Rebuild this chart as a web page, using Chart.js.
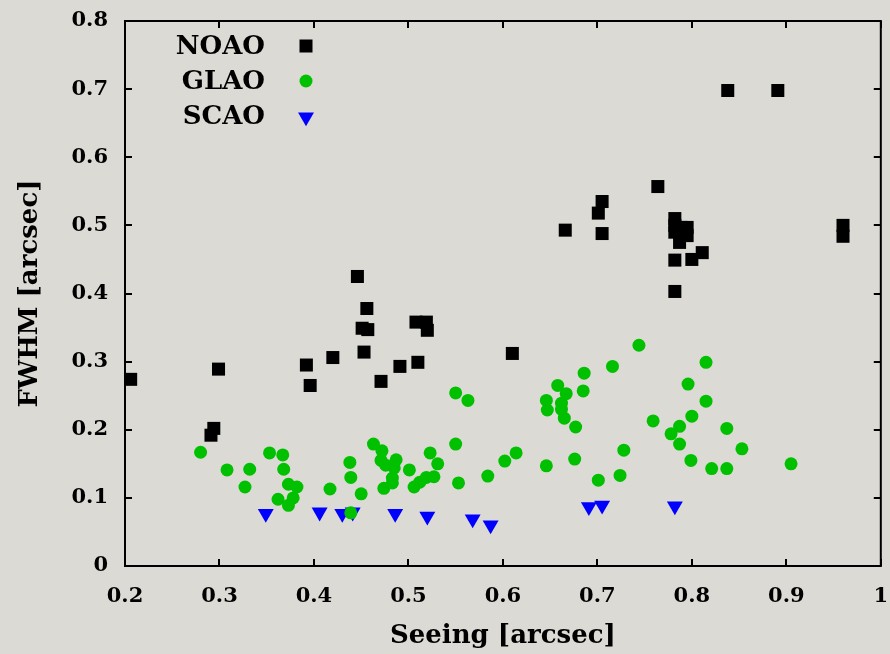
<!DOCTYPE html>
<html>
<head>
<meta charset="utf-8">
<script src="https://cdn.jsdelivr.net/npm/chart.js@4/dist/chart.umd.min.js"></script>
<style>
  html, body { margin: 0; padding: 0; background: #dcdad4; }
  #wrap { width: 890px; height: 654px; }
</style>
</head>
<body>
<div id="wrap"><canvas id="c" width="890" height="654"></canvas></div>
<script>
// ---- Data ----
const seriesNames = ["NOAO", "GLAO", "SCAO"];

const noaoX = [0.206,0.291,0.294,0.299,0.392,0.396,0.420,0.446,0.456,0.451,0.457,0.453,0.471,0.491,0.508,0.510,0.519,0.520,0.610,0.666,0.701,0.705,0.705,0.764,0.782,0.782,0.789,0.795,0.795,0.782,0.787,0.811,0.800,0.782,0.782,0.838,0.891,0.960,0.960];
const noaoY = [0.274,0.192,0.202,0.289,0.295,0.265,0.306,0.425,0.378,0.349,0.347,0.314,0.271,0.293,0.358,0.299,0.358,0.346,0.312,0.493,0.518,0.535,0.488,0.557,0.510,0.500,0.497,0.497,0.485,0.490,0.475,0.460,0.450,0.449,0.403,0.698,0.698,0.500,0.484];

const glaoX = [0.280,0.308,0.332,0.327,0.353,0.367,0.368,0.373,0.382,0.378,0.362,0.373,0.417,0.438,0.439,0.450,0.463,0.472,0.471,0.476,0.487,0.483,0.474,0.439,0.485,0.501,0.483,0.523,0.531,0.527,0.519,0.512,0.506,0.550,0.553,0.584,0.602,0.614,0.646,0.550,0.563,0.646,0.647,0.744,0.716,0.686,0.685,0.658,0.667,0.662,0.662,0.665,0.677,0.676,0.701,0.724,0.728,0.759,0.778,0.787,0.787,0.800,0.796,0.815,0.815,0.799,0.837,0.853,0.821,0.837,0.905];
const glaoY = [0.167,0.141,0.142,0.116,0.166,0.163,0.142,0.120,0.116,0.100,0.098,0.089,0.113,0.152,0.130,0.106,0.179,0.169,0.155,0.148,0.156,0.129,0.114,0.078,0.144,0.141,0.122,0.166,0.150,0.131,0.130,0.123,0.116,0.179,0.122,0.132,0.154,0.166,0.147,0.254,0.243,0.243,0.229,0.324,0.293,0.283,0.257,0.265,0.253,0.239,0.230,0.217,0.204,0.157,0.126,0.133,0.170,0.213,0.194,0.205,0.179,0.220,0.267,0.299,0.242,0.155,0.202,0.172,0.143,0.143,0.150];

const scaoX = [0.349,0.406,0.430,0.441,0.486,0.520,0.568,0.587,0.691,0.705,0.782];
const scaoY = [0.077,0.079,0.077,0.079,0.077,0.073,0.069,0.060,0.087,0.089,0.088];

const xTickValues = [0.2,0.3,0.4,0.5,0.6,0.7,0.8,0.9,1.0];
const yTickValues = [0,0.1,0.2,0.3,0.4,0.5,0.6,0.7,0.8];
const xTickLabels = ["0.2","0.3","0.4","0.5","0.6","0.7","0.8","0.9","1"];
const yTickLabels = ["0","0.1","0.2","0.3","0.4","0.5","0.6","0.7","0.8"];
const xTitle = "Seeing [arcsec]";
const yTitle = "FWHM [arcsec]";

// ---- Build chart ----
function pts(xs, ys) { return xs.map((x, i) => ({ x: x, y: ys[i] })); }
function nearestLabel(values, labels, v) {
  let best = 0, d = Infinity;
  values.forEach((t, i) => { const dd = Math.abs(t - v); if (dd < d) { d = dd; best = i; } });
  return d < 1e-6 ? labels[best] : '';
}

const BG = '#dcdad4';
const tickFont = { family: 'DejaVu Serif', weight: 'bold', size: 21 };
const titleFont = { family: 'DejaVu Serif', weight: 'bold', size: 26 };

const markerStyles = [
  { pointStyle: 'rect', radius: 9.2, rotation: 0, color: '#000000' },
  { pointStyle: 'circle', radius: 6.5, rotation: 0, color: '#00c000' },
  { pointStyle: 'triangle', radius: 9.2, rotation: 180, color: '#0000ff' }
];

const bgPlugin = {
  id: 'bg',
  beforeDraw(chart) {
    const ctx = chart.ctx;
    ctx.save();
    ctx.fillStyle = BG;
    ctx.fillRect(0, 0, chart.width, chart.height);
    ctx.restore();
  }
};

const framePlugin = {
  id: 'frame',
  afterDatasetsDraw(chart) {
    const ctx = chart.ctx, a = chart.chartArea;
    const xs = chart.scales.x, ys = chart.scales.y;
    const L = 7;
    ctx.save();
    ctx.strokeStyle = '#000';
    ctx.lineWidth = 2;
    ctx.beginPath();
    xTickValues.forEach(v => {
      const px = Math.round(xs.getPixelForValue(v));
      ctx.moveTo(px, a.bottom); ctx.lineTo(px, a.bottom - L);
      ctx.moveTo(px, a.top); ctx.lineTo(px, a.top + L);
    });
    yTickValues.forEach(v => {
      const py = Math.round(ys.getPixelForValue(v));
      ctx.moveTo(a.left, py); ctx.lineTo(a.left + L, py);
      ctx.moveTo(a.right, py); ctx.lineTo(a.right - L, py);
    });
    ctx.stroke();
    ctx.strokeRect(a.left, a.top, a.right - a.left, a.bottom - a.top);
    ctx.restore();
  }
};

function drawMarker(ctx, st, x, y) {
  ctx.save();
  ctx.fillStyle = st.color;
  ctx.beginPath();
  const r = st.radius;
  if (st.pointStyle === 'rect') {
    const s = r * Math.SQRT1_2;
    ctx.rect(x - s, y - s, 2 * s, 2 * s);
  } else if (st.pointStyle === 'circle') {
    ctx.arc(x, y, r, 0, Math.PI * 2);
  } else {
    ctx.moveTo(x, y + r);
    ctx.lineTo(x - r * Math.sin(Math.PI / 3), y - r / 2);
    ctx.lineTo(x + r * Math.sin(Math.PI / 3), y - r / 2);
    ctx.closePath();
  }
  ctx.fill();
  ctx.restore();
}

const legendPlugin = {
  id: 'customLegend',
  afterDraw(chart) {
    const ctx = chart.ctx, a = chart.chartArea;
    const textRight = a.left + 140;
    const markX = a.left + 181;
    const rows = [a.top + 26, a.top + 61, a.top + 96];
    ctx.save();
    ctx.font = 'bold 26px "DejaVu Serif"';
    ctx.fillStyle = '#000';
    ctx.textAlign = 'right';
    ctx.textBaseline = 'middle';
    chart.data.datasets.forEach((ds, i) => {
      ctx.fillText(ds.label, textRight, rows[i]);
      drawMarker(ctx, markerStyles[i], markX, rows[i] + (i === 2 ? 0 : -1));
    });
    ctx.restore();
  }
};

const datasets = [
  [noaoX, noaoY], [glaoX, glaoY], [scaoX, scaoY]
].map((d, i) => ({
  label: seriesNames[i],
  data: pts(d[0], d[1]),
  pointStyle: markerStyles[i].pointStyle,
  pointRadius: markerStyles[i].radius,
  pointHoverRadius: markerStyles[i].radius,
  pointRotation: markerStyles[i].rotation,
  backgroundColor: markerStyles[i].color,
  borderColor: markerStyles[i].color,
  borderWidth: 0,
  showLine: false,
  clip: false
}));

new Chart(document.getElementById('c'), {
  type: 'scatter',
  data: { datasets: datasets },
  options: {
    responsive: false,
    animation: false,
    events: [],
    layout: { padding: { top: 21, right: 7, left: 0, bottom: 0 } },
    plugins: { legend: { display: false }, tooltip: { enabled: false } },
    scales: {
      x: {
        type: 'linear', min: 0.2, max: 1.0,
        afterBuildTicks(scale) { scale.ticks = xTickValues.map(v => ({ value: v })); },
        afterFit(scale) { scale.height = 88; scale.paddingLeft = 0; scale.paddingRight = 0; },
        grid: { display: false, drawTicks: false },
        border: { display: false },
        ticks: {
          font: tickFont, color: '#000', padding: 18, maxRotation: 0, autoSkip: false,
          callback: v => nearestLabel(xTickValues, xTickLabels, v)
        },
        title: { display: true, text: xTitle, font: titleFont, color: '#000', padding: { top: 4, bottom: 2 } }
      },
      y: {
        type: 'linear', min: 0, max: 0.8,
        afterBuildTicks(scale) { scale.ticks = yTickValues.map(v => ({ value: v })); },
        afterFit(scale) { scale.width = 125; scale.paddingTop = 0; scale.paddingBottom = 0; },
        grid: { display: false, drawTicks: false },
        border: { display: false },
        ticks: {
          font: tickFont, color: '#000', padding: 17, autoSkip: false,
          callback: v => nearestLabel(yTickValues, yTickLabels, v)
        },
        title: { display: true, text: yTitle, font: titleFont, color: '#000', padding: { top: 15, bottom: 0 } }
      }
    }
  },
  plugins: [bgPlugin, framePlugin, legendPlugin]
});
</script>
</body>
</html>
